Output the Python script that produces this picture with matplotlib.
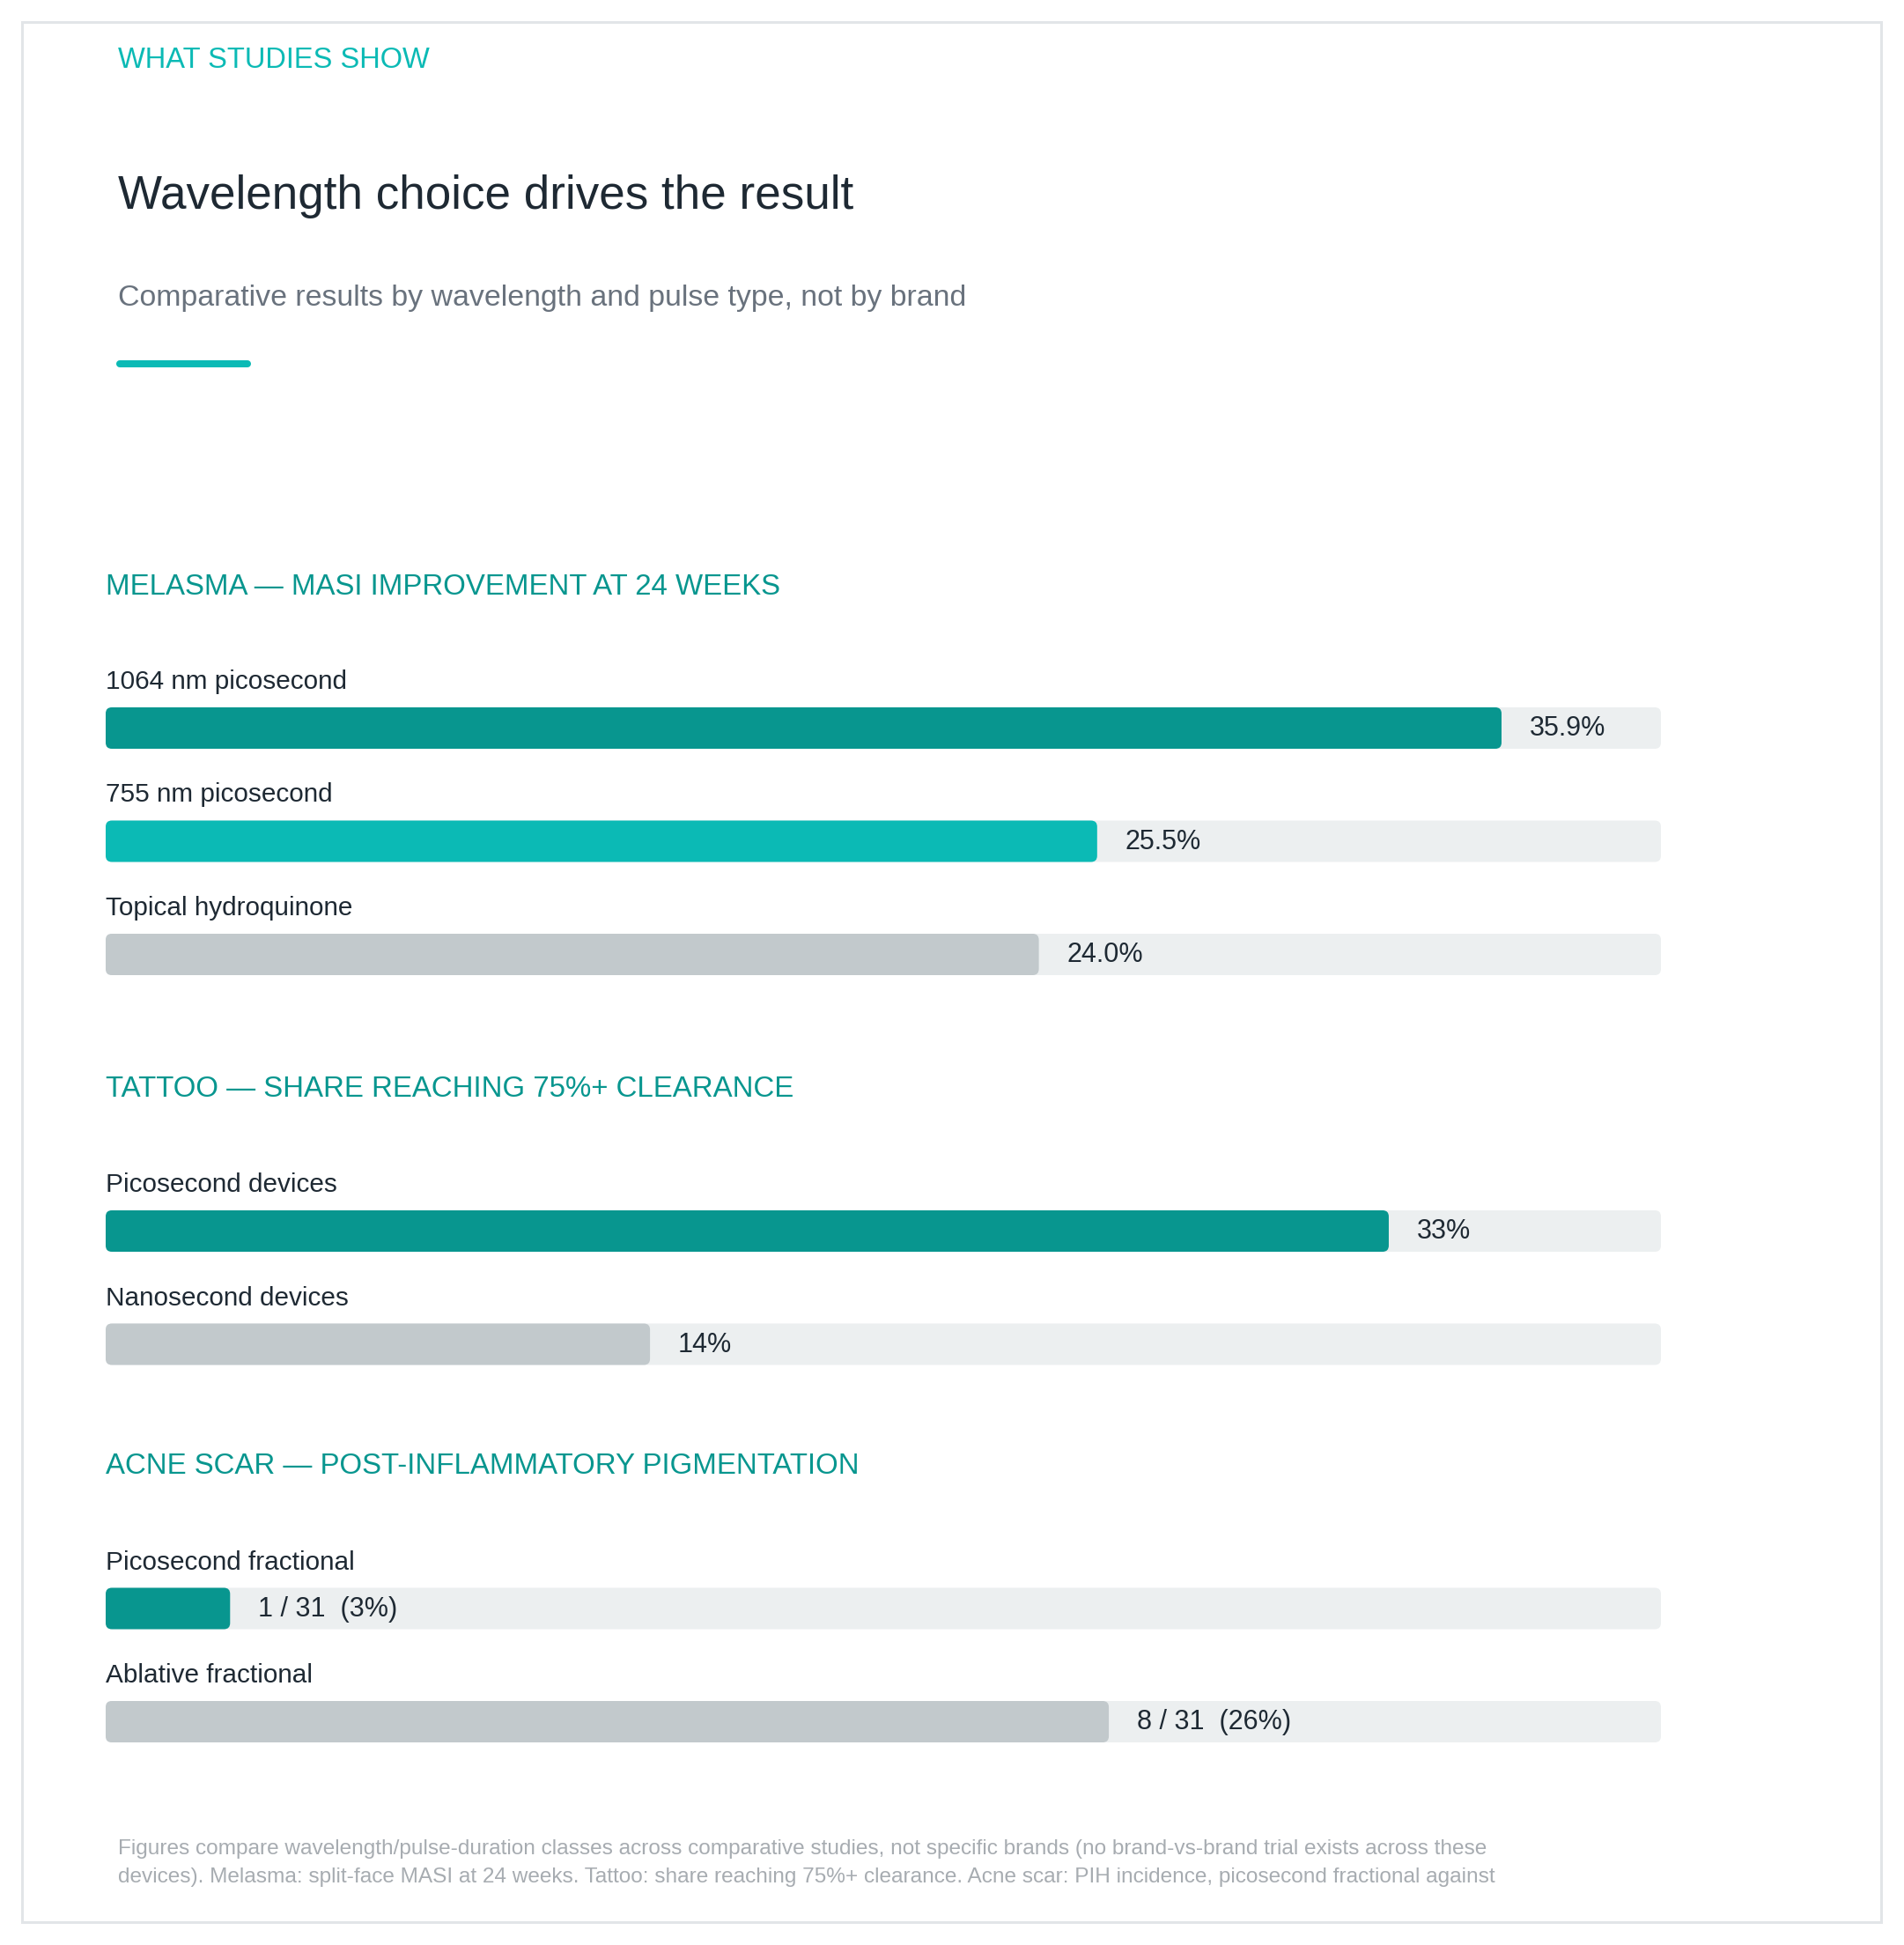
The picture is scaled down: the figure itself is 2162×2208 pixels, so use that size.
import matplotlib
matplotlib.use("Agg")
import matplotlib.pyplot as plt
from matplotlib.patches import FancyBboxPatch, Rectangle
from matplotlib.lines import Line2D

# ---------------- data ----------------
eyebrow = "WHAT STUDIES SHOW"
title = "Wavelength choice drives the result"
subtitle = "Comparative results by wavelength and pulse type, not by brand"

section_titles = [
    "MELASMA — MASI IMPROVEMENT AT 24 WEEKS",
    "TATTOO — SHARE REACHING 75%+ CLEARANCE",
    "ACNE SCAR — POST-INFLAMMATORY PIGMENTATION",
]

melasma_labels = ["1064 nm picosecond", "755 nm picosecond", "Topical hydroquinone"]
melasma_values = [35.9, 25.5, 24.0]
melasma_texts = ["35.9%", "25.5%", "24.0%"]

tattoo_labels = ["Picosecond devices", "Nanosecond devices"]
tattoo_values = [33.0, 14.0]
tattoo_texts = ["33%", "14%"]

acne_labels = ["Picosecond fractional", "Ablative fractional"]
acne_values = [3.2, 25.8]
acne_texts = ["1 / 31  (3%)", "8 / 31  (26%)"]

footnote_lines = [
    "Figures compare wavelength/pulse-duration classes across comparative studies, not specific brands (no brand-vs-brand trial exists across these",
    "devices). Melasma: split-face MASI at 24 weeks. Tattoo: share reaching 75%+ clearance. Acne scar: PIH incidence, picosecond fractional against",
]

x_max = 40

# ---------------- style ----------------
DARK_TEAL = "#08968F"
BRIGHT_TEAL = "#0BBAB5"
GREY_BAR = "#C2C9CC"
TRACK = "#ECEFF0"
INK = "#1E2933"
SUB = "#69727D"
FOOT = "#A7ACB1"
BORDER = "#E2E5E8"

melasma_colors = [DARK_TEAL, BRIGHT_TEAL, GREY_BAR]
tattoo_colors = [DARK_TEAL, GREY_BAR]
acne_colors = [DARK_TEAL, GREY_BAR]

plt.rcParams['font.family'] = ['Liberation Sans', 'DejaVu Sans']

W, H = 2162, 2208
DPI = 100
fig = plt.figure(figsize=(W / DPI, H / DPI), dpi=DPI)
fig.patch.set_facecolor("white")


def fx(px):
    return px / W


def fy(py):
    return 1 - py / H


# outer border
fig.patches.append(Rectangle((fx(25), fy(2182)), fx(2136) - fx(25), fy(25) - fy(2182),
                             transform=fig.transFigure, fill=False,
                             edgecolor=BORDER, linewidth=2.2))

# header
fig.text(fx(134), fy(77), eyebrow, color=BRIGHT_TEAL, fontsize=23.5, va="baseline", ha="left")
fig.text(fx(134), fy(237), title, color=INK, fontsize=38.2, va="baseline", ha="left")
fig.text(fx(134), fy(347), subtitle, color=SUB, fontsize=24.4, va="baseline", ha="left")
fig.lines.append(Line2D([fx(136), fx(281)], [fy(413), fy(413)], transform=fig.transFigure,
                        color=BRIGHT_TEAL, linewidth=5.8, solid_capstyle="round"))

# sections
ROW = 128.5          # px between rows
BAR_H_PX = 47
LEFT, RIGHT = 120, 1886
sections = [
    (section_titles[0], 675, 826.5, melasma_labels, melasma_values, melasma_texts, melasma_colors),
    (section_titles[1], 1245, 1397.5, tattoo_labels, tattoo_values, tattoo_texts, tattoo_colors),
    (section_titles[2], 1673, 1826, acne_labels, acne_values, acne_texts, acne_colors),
]

xu = x_max / (RIGHT - LEFT)   # data units per px in x
yu = 1 / ROW                  # data units per px in y
aspect = yu / xu
bh = BAR_H_PX * yu
rs = 7 * xu

for head, head_base, first_center, labels, values, texts, colors in sections:
    n = len(values)
    fig.text(fx(LEFT), fy(head_base), head, color=DARK_TEAL, fontsize=23.8, va="baseline", ha="left")
    top = first_center - ROW / 2
    ax = fig.add_axes([fx(LEFT), fy(top + n * ROW), fx(RIGHT) - fx(LEFT), n * ROW / H])
    ax.set_xlim(0, x_max)
    ax.set_ylim(n - 0.5, -0.5)
    ax.axis("off")
    for i, (lab, v, t, c) in enumerate(zip(labels, values, texts, colors)):
        ax.add_patch(FancyBboxPatch((0, i - bh / 2), x_max, bh,
                                    boxstyle=f"round,pad=0,rounding_size={rs}",
                                    mutation_aspect=aspect, facecolor=TRACK,
                                    edgecolor="none", clip_on=False))
        ax.add_patch(FancyBboxPatch((0, i - bh / 2), v, bh,
                                    boxstyle=f"round,pad=0,rounding_size={rs}",
                                    mutation_aspect=aspect, facecolor=c,
                                    edgecolor="none", clip_on=False))
        ax.text(0, i - bh / 2 - 21 * yu, lab, color=INK, fontsize=21.4,
                va="baseline", ha="left", clip_on=False)
        ax.text(v + 32 * xu, i + 9 * yu, t, color=INK, fontsize=22,
                va="baseline", ha="left", clip_on=False)

# footnote
for k, line in enumerate(footnote_lines):
    fig.text(fx(134), fy(2105 + 32 * k), line, color=FOOT, fontsize=17.6, va="baseline", ha="left")

fig.savefig("out.png", dpi=DPI, facecolor="white")
